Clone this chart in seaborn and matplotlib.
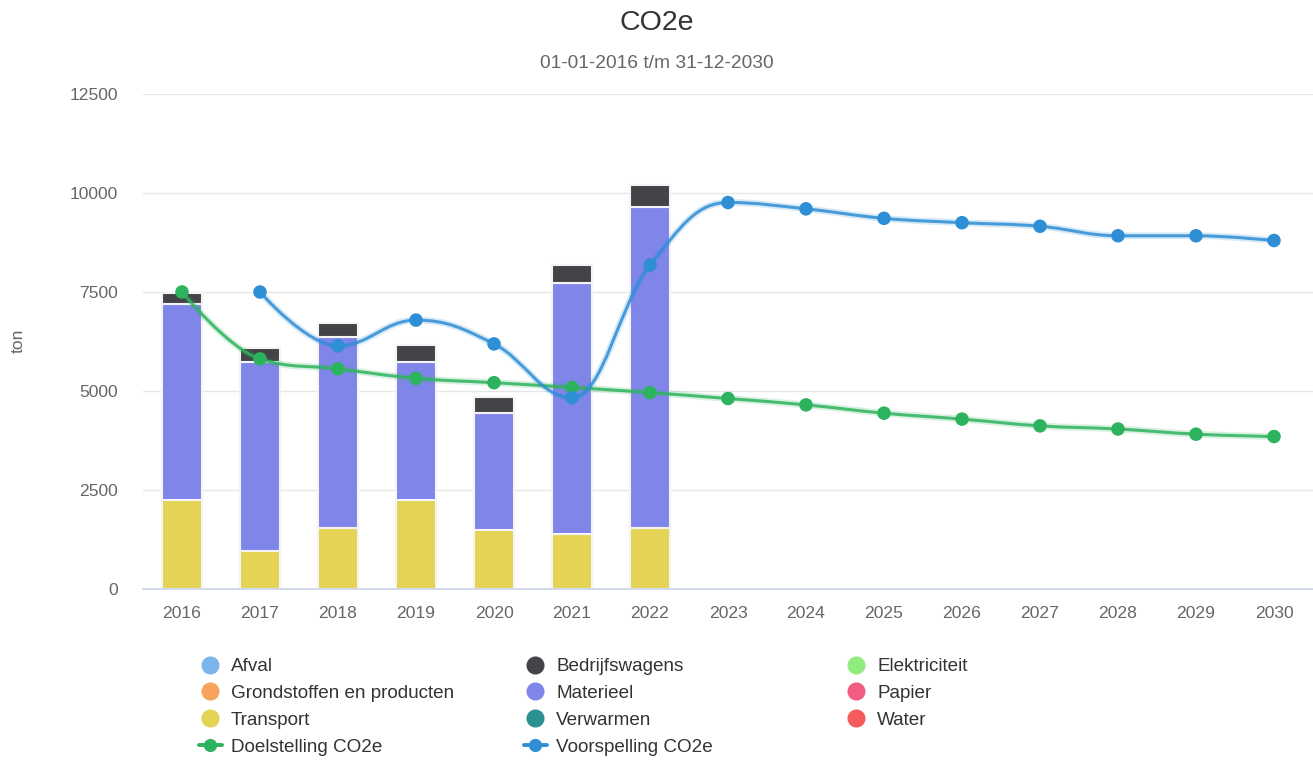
import matplotlib
matplotlib.use("Agg")
import matplotlib.pyplot as plt
from matplotlib.path import Path
from matplotlib.patches import PathPatch
from matplotlib.lines import Line2D
import pandas as pd
import seaborn as sns

# data
jaren = [str(j) for j in range(2016, 2031)]
transport = [2250, 960, 1530, 2250, 1490, 1380, 1530]
materieel = [4940, 4780, 4840, 3470, 2950, 6340, 8120]
bedrijfswagens = [280, 340, 350, 440, 400, 460, 560]
doelstelling = [7500, 5810, 5560, 5320, 5210, 5090, 4960, 4810, 4650,
                4440, 4290, 4120, 4040, 3910, 3850]
voorspelling = [None, 7500, 6140, 6790, 6190, 4830, 8180, 9760, 9600,
                9360, 9250, 9160, 8920, 8920, 8800]

kleuren = {
    "Afval": "#7cb5ec", "Bedrijfswagens": "#434348", "Elektriciteit": "#90ed7d",
    "Grondstoffen en producten": "#f7a35c", "Materieel": "#8085e9",
    "Papier": "#f15c80", "Transport": "#e4d354", "Verwarmen": "#2b908f",
    "Water": "#f45b5b",
}
groen = "#2db35d"
blauw = "#2e8ed6"


# spline zoals highcharts die tekent (smoothing 1.5)
def spline_path(xs, ys, smoothing=1.5):
    n = len(xs)
    denom = smoothing + 1
    left = [None] * n
    right = [None] * n
    for i in range(1, n - 1):
        lx, ly = xs[i - 1], ys[i - 1]
        px, py = xs[i], ys[i]
        nx, ny = xs[i + 1], ys[i + 1]
        lcx = (smoothing * px + lx) / denom
        lcy = (smoothing * py + ly) / denom
        rcx = (smoothing * px + nx) / denom
        rcy = (smoothing * py + ny) / denom
        if rcx != lcx:
            corr = (rcy - lcy) * (rcx - px) / (rcx - lcx) + py - rcy
            lcy += corr
            rcy += corr
        if lcy > ly and lcy > py:
            lcy = max(ly, py); rcy = 2 * py - lcy
        elif lcy < ly and lcy < py:
            lcy = min(ly, py); rcy = 2 * py - lcy
        if rcy > ny and rcy > py:
            rcy = max(ny, py); lcy = 2 * py - rcy
        elif rcy < ny and rcy < py:
            rcy = min(ny, py); lcy = 2 * py - rcy
        left[i] = (lcx, lcy)
        right[i] = (rcx, rcy)
    verts = [(xs[0], ys[0])]
    codes = [Path.MOVETO]
    for i in range(1, n):
        c1 = right[i - 1] or (xs[i - 1], ys[i - 1])
        c2 = left[i] or (xs[i], ys[i])
        verts += [c1, c2, (xs[i], ys[i])]
        codes += [Path.CURVE4] * 3
    return Path(verts, codes)


sns.set_theme(style="white")
plt.rcParams["font.family"] = ["Liberation Sans", "DejaVu Sans"]

fig = plt.figure(figsize=(13.13, 7.62), dpi=100)
ax = fig.add_axes([143 / 1313, 1 - 589 / 762, (1313 - 143) / 1313, (589 - 94) / 762])

df = pd.DataFrame({"jaar": jaren[:7], "Transport": transport,
                   "Materieel": materieel, "Bedrijfswagens": bedrijfswagens})
x_bar = list(range(len(df)))
onder = [0] * len(df)
for cat in ["Transport", "Materieel", "Bedrijfswagens"]:
    ax.bar(x_bar, df[cat], bottom=onder, width=0.51, color=kleuren[cat],
           edgecolor="#f4f4f4", linewidth=1.5, zorder=2)
    onder = [a + b for a, b in zip(onder, df[cat])]

lijnen = [("Doelstelling CO2e", doelstelling, groen),
          ("Voorspelling CO2e", voorspelling, blauw)]
for naam, waarden, kleur in lijnen:
    pts = [(i, v) for i, v in enumerate(waarden) if v is not None]
    xs = [p[0] for p in pts]
    ys = [p[1] for p in pts]
    pad = spline_path(xs, ys)
    ax.add_patch(PathPatch(pad, facecolor="none", edgecolor=kleur, lw=5,
                           alpha=0.18, zorder=3))
    ax.add_patch(PathPatch(pad, facecolor="none", edgecolor=kleur, lw=2.2,
                           alpha=0.85, zorder=4))
    sns.scatterplot(x=xs, y=ys, ax=ax, color=kleur, s=95, edgecolor="none",
                    zorder=5, legend=False)

ax.set_xlim(-0.5, len(jaren) - 0.5)
ax.set_ylim(0, 12500)
ax.set_yticks(range(0, 12501, 2500))
ax.set_xticks(range(len(jaren)))
ax.set_xticklabels(jaren)
ax.yaxis.grid(True, color="#e6e6e6", lw=1)
ax.set_axisbelow(True)
for s in ["top", "right", "left"]:
    ax.spines[s].set_visible(False)
ax.spines["bottom"].set_color("#ccd6eb")
ax.tick_params(axis="both", length=0, labelsize=12.6, labelcolor="#666666")
ax.tick_params(axis="y", pad=18)
ax.tick_params(axis="x", pad=12)
ax.set_ylabel("")
fig.text(18 / 1313, 1 - 341 / 762, "ton", rotation=90, ha="center", va="center",
         fontsize=12.6, color="#666666")

fig.text(0.5, 1 - 23 / 762, "CO2e", ha="center", va="center", fontsize=20.5,
         color="#333333")
fig.text(0.5, 1 - 63 / 762, "01-01-2016 t/m 31-12-2030", ha="center",
         va="center", fontsize=13.8, color="#666666")


def cirkel(naam):
    return Line2D([], [], marker="o", ls="none", color=kleuren[naam],
                  markersize=12, label=naam)


def lijn(naam, kleur):
    return Line2D([], [], marker="o", ls="-", lw=2.8, color=kleur,
                  markersize=8.5, label=naam)


kolommen = [
    [cirkel("Afval"), cirkel("Grondstoffen en producten"), cirkel("Transport"),
     lijn("Doelstelling CO2e", groen)],
    [cirkel("Bedrijfswagens"), cirkel("Materieel"), cirkel("Verwarmen"),
     lijn("Voorspelling CO2e", blauw)],
    [cirkel("Elektriciteit"), cirkel("Papier"), cirkel("Water")],
]
for k, x0 in zip(kolommen, [199, 524, 845]):
    fig.legend(handles=k, loc="upper left",
               bbox_to_anchor=(x0 / 1313, 1 - 658 / 762), frameon=False,
               fontsize=13.6, labelcolor="#333333", handlelength=1.2,
               handletextpad=0.5, labelspacing=0.51, borderpad=0,
               borderaxespad=0)

fig.savefig("out.png", dpi=100)
